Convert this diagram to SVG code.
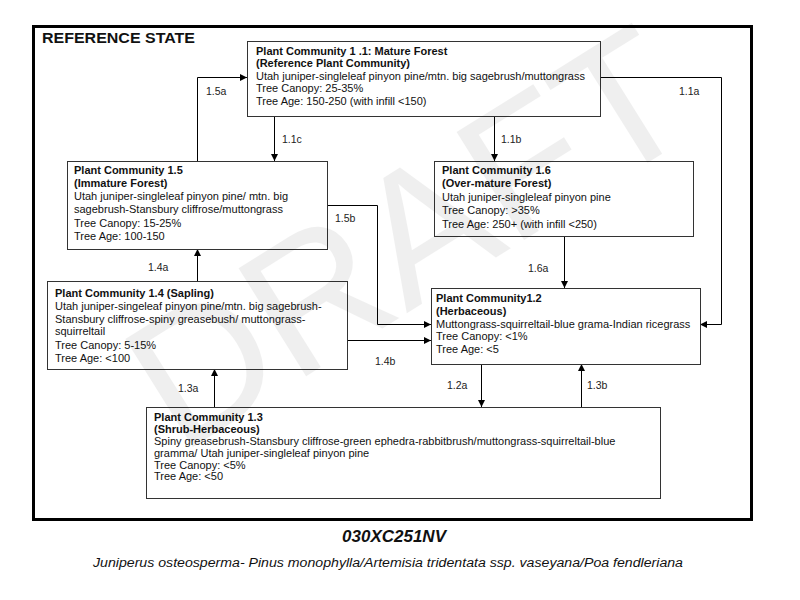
<svg xmlns="http://www.w3.org/2000/svg" width="800" height="600" viewBox="0 0 800 600">
<defs>
<style>
text{font-family:"Liberation Sans",Arial,sans-serif;fill:#111}
.b{font-weight:bold;font-size:11px}
.t{font-size:11px}
.lbl{font-size:10.5px;fill:#222}
.box{fill:#fff;stroke:#333;stroke-width:1}
.con{fill:none;stroke:#000;stroke-width:1}
</style>
<marker id="ah" markerWidth="8" markerHeight="7" refX="7" refY="3.5" orient="auto" markerUnits="userSpaceOnUse">
<path d="M0,0 L7,3.5 L0,7 Z" fill="#000"/>
</marker>
</defs>
<rect x="0" y="0" width="800" height="600" fill="#fff"/>
<rect x="33.5" y="26.5" width="718" height="493" fill="none" stroke="#000" stroke-width="3"/>
<text x="42" y="43" font-size="14" font-weight="bold" textLength="153" lengthAdjust="spacingAndGlyphs">REFERENCE STATE</text>

<g id="connectors">
<path class="con" d="M197.5,161 V77.5 H247" marker-end="url(#ah)"/>
<path class="con" d="M274.5,116 V161" marker-end="url(#ah)"/>
<path class="con" d="M494.5,116 V161" marker-end="url(#ah)"/>
<path class="con" d="M600,77.5 H721.5 V324.5 H700" marker-end="url(#ah)"/>
<path class="con" d="M327,205.5 H377.5 V324.5 H431" marker-end="url(#ah)"/>
<path class="con" d="M347,340.5 H431" marker-end="url(#ah)"/>
<path class="con" d="M197.5,281 V249" marker-end="url(#ah)"/>
<path class="con" d="M564.5,236 V288" marker-end="url(#ah)"/>
<path class="con" d="M214.5,407 V369" marker-end="url(#ah)"/>
<path class="con" d="M481.5,364 V407" marker-end="url(#ah)"/>
<path class="con" d="M581.5,407 V364" marker-end="url(#ah)"/>
<text class="lbl" x="206" y="95">1.5a</text>
<text class="lbl" x="282" y="143">1.1c</text>
<text class="lbl" x="501" y="143">1.1b</text>
<text class="lbl" x="679" y="95">1.1a</text>
<text class="lbl" x="335" y="222">1.5b</text>
<text class="lbl" x="148" y="271">1.4a</text>
<text class="lbl" x="528" y="272">1.6a</text>
<text class="lbl" x="375" y="365">1.4b</text>
<text class="lbl" x="178" y="392">1.3a</text>
<text class="lbl" x="447" y="389">1.2a</text>
<text class="lbl" x="587" y="389">1.3b</text>
</g>

<g id="pc11">
<rect class="box" x="247.5" y="41.5" width="353" height="75"/>
<text class="b" x="256" y="55">Plant Community 1 .1: Mature Forest</text>
<text class="b" x="256" y="67">(Reference Plant Community)</text>
<text class="t" x="256" y="80">Utah juniper-singleleaf pinyon pine/mtn. big sagebrush/muttongrass</text>
<text class="t" x="256" y="92">Tree Canopy: 25-35%</text>
<text class="t" x="256" y="105">Tree Age: 150-250  (with infill &lt;150)</text>
</g>

<g id="pc15">
<rect class="box" x="67.5" y="161.5" width="260" height="88"/>
<text class="b" x="74" y="174">Plant Community 1.5</text>
<text class="b" x="74" y="187">(Immature Forest)</text>
<text class="t" x="74" y="200">Utah juniper-singleleaf pinyon pine/ mtn. big</text>
<text class="t" x="74" y="213">sagebrush-Stansbury cliffrose/muttongrass</text>
<text class="t" x="74" y="227">Tree Canopy: 15-25%</text>
<text class="t" x="74" y="240">Tree Age: 100-150</text>
</g>

<g id="pc16">
<rect class="box" x="434.5" y="161.5" width="259" height="75"/>
<text class="b" x="442" y="174">Plant Community 1.6</text>
<text class="b" x="442" y="187">(Over-mature Forest)</text>
<text class="t" x="442" y="201">Utah juniper-singleleaf pinyon pine</text>
<text class="t" x="442" y="214">Tree Canopy: &gt;35%</text>
<text class="t" x="442" y="228">Tree Age: 250+ (with infill &lt;250)</text>
</g>

<g id="pc14">
<rect class="box" x="47.5" y="281.5" width="300" height="88"/>
<text class="b" x="55" y="297">Plant Community 1.4 (Sapling)</text>
<text class="t" x="55" y="310">Utah juniper-singeleaf pinyon pine/mtn. big sagebrush-</text>
<text class="t" x="55" y="323">Stansbury cliffrose-spiny greasebush/ muttongrass-</text>
<text class="t" x="55" y="335">squirreltail</text>
<text class="t" x="55" y="349">Tree Canopy: 5-15%</text>
<text class="t" x="55" y="362">Tree Age: &lt;100</text>
</g>

<g id="pc12">
<rect class="box" x="431.5" y="288.5" width="269" height="76"/>
<text class="b" x="436" y="302">Plant Community1.2</text>
<text class="b" x="436" y="315">(Herbaceous)</text>
<text class="t" x="436" y="328">Muttongrass-squirreltail-blue grama-Indian  ricegrass</text>
<text class="t" x="436" y="340">Tree Canopy: &lt;1%</text>
<text class="t" x="436" y="353">Tree Age: &lt;5</text>
</g>

<g id="pc13">
<rect class="box" x="146.5" y="407.5" width="514" height="91"/>
<text class="b" x="154" y="421">Plant Community 1.3</text>
<text class="b" x="154" y="433">(Shrub-Herbaceous)</text>
<text class="t" x="154" y="445">Spiny greasebrush-Stansbury cliffrose-green ephedra-rabbitbrush/muttongrass-squirreltail-blue</text>
<text class="t" x="154" y="457">gramma/ Utah juniper-singleleaf pinyon pine</text>
<text class="t" x="154" y="469">Tree Canopy: &lt;5%</text>
<text class="t" x="154" y="480">Tree Age: &lt;50</text>
</g>

<text x="0" y="0" transform="translate(180,455) rotate(-32)" font-size="185" style="fill:#000;opacity:0.06">DRAFT</text>

<text x="394" y="542" font-size="17" font-weight="bold" font-style="italic" text-anchor="middle">030XC251NV</text>
<text x="93" y="567" font-size="12.5" font-style="italic" textLength="590" lengthAdjust="spacingAndGlyphs">Juniperus osteosperma- Pinus monophylla/Artemisia tridentata ssp. vaseyana/Poa fendleriana</text>
</svg>
